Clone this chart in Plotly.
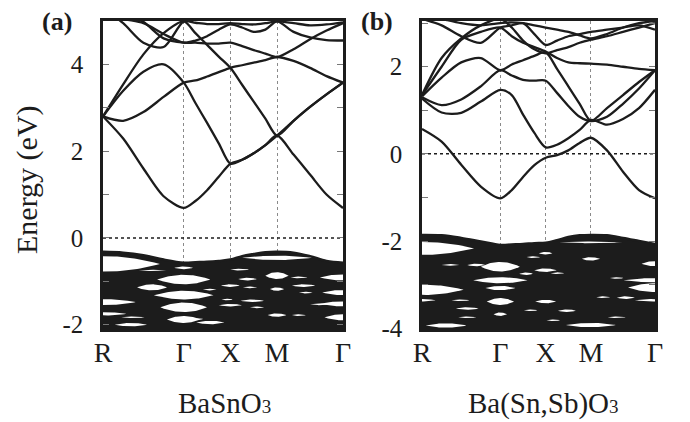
import numpy as np
import plotly.graph_objects as go

# ---------------- data ----------------
# k-path R-Γ-X-M-Γ (units of pi/a); 17 nodes = quarter points of each segment
SEG_LEN = [3 ** 0.5, 1.0, 1.0, 2 ** 0.5]
K_LABELS = ["R", "Γ", "X", "M", "Γ"]

# (a) BaSnO3 conduction bands (eV) at the 17 nodes
A_BANDS = [
    [2.80, 2.29, 1.60, 0.96, 0.69, 0.85, 1.10, 1.41, 1.71, 1.80, 1.95, 2.14, 2.36, 2.70, 3.02, 3.31, 3.58],
    [2.80, 3.39, 3.83, 4.00, 3.58, 3.11, 2.65, 2.18, 1.71, 1.80, 1.95, 2.14, 2.36, 1.92, 1.46, 1.00, 0.69],
    [2.80, 2.70, 2.90, 3.25, 3.58, 3.63, 3.72, 3.82, 3.92, 3.98, 4.04, 4.10, 4.17, 4.08, 3.92, 3.73, 3.58],
    [2.80, 3.54, 4.23, 4.72, 4.99, 4.72, 4.45, 4.18, 3.92, 3.53, 3.14, 2.75, 2.36, 2.70, 3.02, 3.31, 3.58],
    [5.30, 4.95, 4.50, 4.40, 4.99, 4.96, 4.93, 4.93, 4.95, 4.93, 4.92, 4.95, 4.99, 4.95, 4.90, 4.92, 4.97],
    [5.30, 5.20, 4.98, 4.60, 4.50, 4.50, 4.48, 4.48, 4.50, 4.42, 4.33, 4.25, 4.17, 4.35, 4.58, 4.78, 4.95],
    [5.20, 5.05, 4.95, 4.70, 4.50, 4.55, 4.65, 4.80, 4.92, 4.85, 4.75, 4.80, 4.99, 4.75, 4.62, 4.56, 4.55],
]
A_VB_TOP = [-0.32, -0.34, -0.40, -0.50, -0.57, -0.56, -0.55, -0.53, -0.50,
            -0.42, -0.37, -0.33, -0.32, -0.34, -0.42, -0.53, -0.57]
# white gaps inside the valence-band manifold: (k, E, k half-width, E half-height)
A_GAPS = [
    (0.00, -0.60, 1.22, 0.18), (3.73, -0.46, 0.75, 0.05), (1.73, -0.69, 0.20, 0.03),
    (1.73, -0.96, 0.57, 0.11), (1.73, -1.32, 0.64, 0.10), (1.73, -1.60, 0.50, 0.11),
    (1.73, -1.88, 0.36, 0.08), (3.73, -0.87, 0.25, 0.08), (3.73, -1.18, 0.15, 0.04),
    (3.73, -1.78, 0.20, 0.04), (5.15, -0.91, 0.50, 0.07), (5.15, -1.26, 0.45, 0.06),
    (5.15, -1.52, 0.50, 0.06), (5.15, -1.83, 0.40, 0.07), (0.00, -1.48, 0.70, 0.07),
    (0.00, -1.75, 0.50, 0.04), (1.05, -1.14, 0.32, 0.07), (2.73, -1.10, 0.20, 0.03),
    (2.73, -1.55, 0.25, 0.03), (3.10, -0.95, 0.20, 0.03), (3.20, -1.45, 0.25, 0.03),
    (4.30, -1.10, 0.25, 0.03), (0.60, -2.00, 0.35, 0.04), (2.30, -1.95, 0.30, 0.04),
    (1.07, -0.75, 0.30, 0.015), (2.93, -0.73, 0.20, 0.02), (2.29, -1.19, 0.15, 0.02),
    (3.15, -1.14, 0.15, 0.02), (4.20, -0.91, 0.18, 0.02), (4.35, -1.26, 0.15, 0.02),
    (4.64, -1.53, 0.20, 0.02), (2.66, -1.42, 0.12, 0.02), (3.30, -1.60, 0.15, 0.02),
    (0.64, -1.83, 0.25, 0.02), (4.20, -1.78, 0.15, 0.02), (2.00, -1.87, 0.15, 0.02),
]

# (b) Ba(Sn,Sb)O3 conduction bands
B_BANDS = [
    [0.57, 0.28, -0.25, -0.75, -1.02, -0.83, -0.53, -0.26, -0.09, -0.03, 0.08, 0.25, 0.37, 0.08, -0.41, -0.83, -1.02],
    [1.27, 0.95, 0.94, 1.20, 1.47, 1.35, 0.90, 0.48, 0.15, 0.21, 0.36, 0.55, 0.78, 0.67, 0.80, 1.05, 1.47],
    [1.30, 1.12, 1.25, 1.55, 1.92, 1.80, 1.70, 1.68, 1.68, 1.40, 1.10, 0.85, 0.75, 0.85, 1.15, 1.50, 1.92],
    [1.32, 1.75, 2.10, 2.20, 1.92, 2.05, 2.15, 2.25, 2.33, 1.95, 1.55, 1.15, 0.76, 1.05, 1.35, 1.65, 1.92],
    [1.35, 2.00, 2.62, 2.80, 2.90, 2.70, 2.55, 2.45, 2.35, 2.20, 2.10, 2.08, 2.07, 2.05, 2.00, 1.95, 1.92],
    [1.35, 2.20, 2.65, 2.95, 3.10, 2.90, 2.60, 2.40, 2.31, 2.38, 2.45, 2.55, 2.62, 2.70, 2.80, 2.90, 3.00],
    [3.10, 2.95, 2.70, 2.55, 2.90, 2.95, 3.00, 2.75, 2.50, 2.60, 2.70, 2.75, 2.80, 2.85, 2.90, 2.95, 2.85],
    [3.20, 3.10, 3.00, 2.95, 3.00, 3.02, 3.00, 2.95, 2.90, 2.85, 2.80, 2.72, 2.65, 2.75, 2.90, 3.00, 3.05],
]
B_VB_TOP = [-1.86, -1.87, -1.93, -2.01, -2.09, -2.08, -2.07, -2.05, -2.04,
            -1.98, -1.91, -1.87, -1.86, -1.87, -1.93, -2.00, -2.07]
B_GAPS = [
    (0.00, -2.17, 1.15, 0.15), (1.73, -2.59, 0.43, 0.11), (1.73, -2.90, 0.60, 0.07),
    (1.73, -3.08, 0.33, 0.05), (1.73, -3.39, 0.30, 0.08), (1.73, -3.68, 0.15, 0.04),
    (0.00, -3.12, 0.92, 0.12), (0.00, -3.36, 0.30, 0.03), (0.53, -3.94, 0.45, 0.05),
    (5.15, -2.52, 0.30, 0.06), (5.15, -2.90, 0.70, 0.05), (5.15, -3.07, 0.60, 0.10),
    (5.15, -3.36, 0.45, 0.03), (3.73, -2.41, 0.20, 0.04), (2.73, -2.67, 0.25, 0.04),
    (2.73, -3.39, 0.23, 0.04), (2.73, -2.28, 0.15, 0.03), (3.73, -3.93, 0.55, 0.05),
    (3.73, -2.03, 0.70, 0.02), (2.30, -2.75, 0.15, 0.03), (1.20, -2.55, 0.20, 0.03),
    (4.50, -3.30, 0.20, 0.03), (3.20, -3.60, 0.20, 0.03), (1.00, -3.55, 0.25, 0.03),
    (0.63, -2.55, 0.20, 0.02), (2.46, -2.37, 0.15, 0.02), (2.99, -2.74, 0.15, 0.02),
    (4.30, -2.85, 0.15, 0.02), (4.00, -3.29, 0.15, 0.02), (0.85, -3.36, 0.20, 0.02),
    (2.40, -3.59, 0.15, 0.02), (4.30, -3.75, 0.20, 0.02), (1.00, -3.75, 0.20, 0.02),
    (2.90, -3.82, 0.15, 0.02),
]

A_YTICKS = [-2, -1, 0, 1, 2, 3, 4]
A_YTEXT = ["-2", "", "0", "", "2", "", "4"]
B_YTICKS = [-4, -3, -2, -1, 0, 1, 2, 3]
B_YTEXT = ["-4", "", "-2", "", "0", "", "2", ""]
A_RANGE = [-2.1, 5.0]
B_RANGE = [-4.02, 3.05]

# ---------------- helpers ----------------
K_SYM = np.concatenate([[0], np.cumsum(SEG_LEN)])
K_NODES = []
for i, L in enumerate(SEG_LEN):
    for f in (0, 0.25, 0.5, 0.75):
        K_NODES.append(K_SYM[i] + f * L)
K_NODES.append(K_SYM[-1])
K_NODES = np.array(K_NODES)

INK = "#1c1c1c"
SERIF = "Liberation Serif, Times New Roman, serif"

# page body has an 8px margin: place the figure so it lines up with the 690x422 window
OFF = 8
W, H = 690 - 2 * OFF, 422 - OFF


def px(x):
    return (x - OFF) / W


def py(y):
    return 1 - (y - OFF) / H


fig = go.Figure()


def add_panel(xa, ya, bands, vb_top, gaps, yrange):
    # valence manifold
    fig.add_trace(go.Scatter(x=K_NODES, y=[yrange[0] - 1] * len(K_NODES), mode="lines",
                             line=dict(width=0), xaxis=xa, yaxis=ya, hoverinfo="skip",
                             showlegend=False))
    fig.add_trace(go.Scatter(x=K_NODES, y=vb_top, mode="lines", fill="tonexty",
                             fillcolor=INK, line=dict(color=INK, width=2.5, shape="spline"),
                             xaxis=xa, yaxis=ya, hoverinfo="skip", showlegend=False))
    t = np.linspace(-1, 1, 41)
    for kc, ec, hw, hh in gaps:
        k = kc + hw * t
        up = ec + hh * (1 - t ** 2)
        lo = ec - hh * (1 - t ** 2)
        fig.add_trace(go.Scatter(x=np.concatenate([k, k[::-1]]), y=np.concatenate([up, lo[::-1]]),
                                 mode="lines", fill="toself", fillcolor="white",
                                 line=dict(width=0), xaxis=xa, yaxis=ya,
                                 hoverinfo="skip", showlegend=False))
    # Fermi level
    fig.add_trace(go.Scatter(x=[K_SYM[0], K_SYM[-1]], y=[0, 0], mode="lines",
                             line=dict(color=INK, width=1.5, dash="dot"),
                             xaxis=xa, yaxis=ya, hoverinfo="skip", showlegend=False))
    for b in bands:
        fig.add_trace(go.Scatter(x=K_NODES, y=b, mode="lines",
                                 line=dict(color=INK, width=2.3, shape="spline", smoothing=0.8),
                                 xaxis=xa, yaxis=ya, hoverinfo="skip", showlegend=False))


add_panel("x", "y", A_BANDS, A_VB_TOP, A_GAPS, A_RANGE)
add_panel("x2", "y2", B_BANDS, B_VB_TOP, B_GAPS, B_RANGE)

ydom = [py(329), py(21)]


def xaxis(dom, anchor):
    return dict(domain=dom, anchor=anchor, range=[K_SYM[0], K_SYM[-1]],
                tickmode="array", tickvals=list(K_SYM), ticktext=K_LABELS,
                ticks="", showgrid=True, gridcolor="#8a8a8a", griddash="dot", gridwidth=1,
                showline=True, linecolor=INK, linewidth=2.5, mirror=True,
                zeroline=False, ticklabelstandoff=-3, automargin=False,
                tickfont=dict(family=SERIF, size=28, color=INK))


def yaxis(anchor, rng, vals, text):
    return dict(domain=ydom, anchor=anchor, range=rng, tickmode="array",
                tickvals=vals, ticktext=text, ticks="inside", ticklen=6,
                tickwidth=1, tickcolor="#777", mirror="allticks",
                showline=True, linecolor=INK, linewidth=2.5, showgrid=False,
                zeroline=False, ticklabelstandoff=12, automargin=False,
                tickfont=dict(family=SERIF, size=25, color=INK))


def label(text, x, y, size, angle=0):
    return dict(text=text, x=px(x), y=py(y), xref="paper", yref="paper",
                xanchor="center", yanchor="middle", textangle=angle, showarrow=False,
                font=dict(family=SERIF, size=size, color=INK))


SUB3 = '<span style="font-size:19px">3</span>'

fig.update_layout(
    width=W, height=H, margin=dict(l=0, r=0, t=0, b=0, autoexpand=False),
    paper_bgcolor="white", plot_bgcolor="white", showlegend=False,
    xaxis=xaxis([px(103), px(343)], "y"),
    xaxis2=xaxis([px(422), px(655)], "y2"),
    yaxis=yaxis("x", A_RANGE, A_YTICKS, A_YTEXT),
    yaxis2=yaxis("x2", B_RANGE, B_YTICKS, B_YTEXT),
    annotations=[
        label("<b>(a)</b>", 57, 21, 26),
        label("<b>(b)</b>", 377, 21, 26),
        label("Energy (eV)", 27, 180, 30, -90),
        label("BaSnO" + SUB3, 224, 403, 29),
        label("Ba(Sn,Sb)O" + SUB3, 543, 403, 29),
    ],
)

fig.write_html("out.html")
